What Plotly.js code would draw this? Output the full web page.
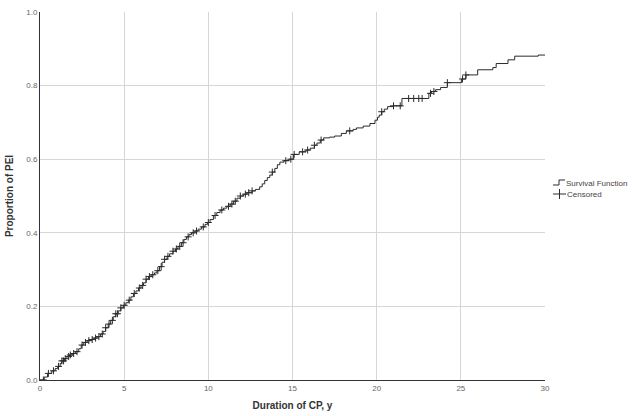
<!DOCTYPE html>
<html>
<head>
<meta charset="utf-8">
<script src="https://cdn.plot.ly/plotly-3.0.1.min.js"></script>
<style>
  html, body { margin: 0; padding: 0; background: #fff; }
  #chart { width: 632px; height: 416px; }
</style>
</head>
<body>
<div id="chart"></div>
<script>
// Cumulative proportion of PEI by duration of chronic pancreatitis (years)
const eventTimes = [0, 0.25, 0.45, 0.7, 0.9, 1.05, 1.2, 1.3, 1.45, 1.6, 1.75, 1.95, 2.1, 2.3, 2.45, 2.6, 2.8,
  3.0, 3.2, 3.4, 3.6, 3.75, 3.9, 4.05, 4.2, 4.35, 4.5, 4.65, 4.8, 4.95, 5.1, 5.25, 5.4, 5.55, 5.7, 5.85,
  6.0, 6.15, 6.3, 6.45, 6.6, 6.8, 6.95, 7.1, 7.25, 7.4, 7.55, 7.7, 7.9, 8.05, 8.2, 8.4, 8.55, 8.7, 8.85,
  9.0, 9.2, 9.4, 9.6, 9.8, 9.95, 10.1, 10.3, 10.5, 10.7, 10.9, 11.1, 11.3, 11.5, 11.7, 11.9, 12.1, 12.3,
  12.6, 12.8, 13.05, 13.2, 13.35, 13.5, 13.65, 13.8, 13.95, 14.1, 14.25, 14.5, 14.8, 15.05, 15.4, 15.8,
  16.05, 16.3, 16.45, 16.65, 16.85, 17.2, 17.5, 17.9, 18.2, 18.6, 18.8, 19.2, 19.6, 19.9, 20.05, 20.15,
  20.3, 20.45, 20.65, 21.0, 21.5, 23.1, 23.25, 23.5, 23.8, 24.2, 25.05, 25.3, 26.0, 26.9, 27.1, 27.8,
  28.2, 29.6, 30];
const cumProportion = [0, 0.008, 0.018, 0.025, 0.031, 0.037, 0.045, 0.052, 0.058, 0.064, 0.068, 0.072, 0.077,
  0.085, 0.095, 0.102, 0.107, 0.110, 0.114, 0.118, 0.125, 0.132, 0.142, 0.152, 0.162, 0.172, 0.180, 0.188,
  0.196, 0.203, 0.210, 0.217, 0.226, 0.235, 0.242, 0.250, 0.257, 0.264, 0.274, 0.281, 0.286, 0.291, 0.297,
  0.308, 0.320, 0.328, 0.336, 0.343, 0.350, 0.356, 0.363, 0.373, 0.382, 0.389, 0.395, 0.400, 0.405, 0.410,
  0.416, 0.423, 0.428, 0.436, 0.447, 0.455, 0.462, 0.467, 0.472, 0.478, 0.486, 0.494, 0.500, 0.505, 0.509,
  0.514, 0.518, 0.525, 0.533, 0.542, 0.550, 0.557, 0.565, 0.575, 0.585, 0.592, 0.596, 0.600, 0.613, 0.620,
  0.625, 0.630, 0.638, 0.644, 0.652, 0.658, 0.660, 0.663, 0.670, 0.677, 0.681, 0.685, 0.690, 0.697, 0.706,
  0.714, 0.720, 0.729, 0.736, 0.743, 0.745, 0.765, 0.779, 0.784, 0.789, 0.795, 0.808, 0.818, 0.829, 0.843,
  0.849, 0.860, 0.870, 0.880, 0.883, 0.883];

// Censored observation times
const censoredTimes = [0.2, 0.5, 0.8, 1.1, 1.3, 1.4, 1.5, 1.7, 1.8, 2.0, 2.2, 2.5, 2.7, 2.9, 3.1, 3.3, 3.5,
  3.7, 3.9, 4.1, 4.3, 4.5, 4.6, 4.8, 5.0, 5.3, 5.6, 5.9, 6.1, 6.3, 6.5, 6.7, 7.0, 7.2, 7.4, 7.6, 7.9, 8.1,
  8.3, 8.5, 8.8, 9.1, 9.3, 9.7, 10.0, 10.4, 10.8, 11.2, 11.4, 11.6, 11.9, 12.2, 12.4, 12.6, 13.8, 14.6,
  14.9, 15.1, 15.6, 15.9, 16.3, 16.7, 18.4, 20.3, 21.0, 21.4, 21.9, 22.2, 22.5, 22.7, 23.2, 23.4, 24.2,
  25.1, 25.3];

const xTicks = [0, 5, 10, 15, 20, 25, 30];
const yTicks = [0, 0.2, 0.4, 0.6, 0.8, 1.0];
const legendLabels = ['Survival Function', 'Censored'];

// Value of the step curve at time t (right-continuous)
function stepValue(t) {
  let v = 0;
  for (let i = 0; i < eventTimes.length; i++) {
    if (eventTimes[i] <= t) v = cumProportion[i]; else break;
  }
  return v;
}

const ink = '#2b2b2b';

const traces = [
  {
    x: eventTimes, y: cumProportion,
    type: 'scatter', mode: 'lines',
    line: { shape: 'hv', color: ink, width: 1 },
    name: legendLabels[0], hoverinfo: 'x+y'
  },
  {
    x: censoredTimes, y: censoredTimes.map(stepValue),
    type: 'scatter', mode: 'markers',
    marker: { symbol: 'cross-thin', size: 5, line: { color: ink, width: 1 } },
    name: legendLabels[1], hoverinfo: 'x+y'
  }
];

// Legend key drawn beside the plot: a small step glyph and a tick-on-line glyph
const legendFont = { family: 'Liberation Sans, Arial, sans-serif', size: 8, color: '#444' };
const keyShapes = [
  { type: 'path', xref: 'paper', yref: 'paper',
    path: 'M1.0158,0.5299 H1.0277 V0.5435 H1.0396', line: { color: ink, width: 1 } },
  { type: 'line', xref: 'paper', yref: 'paper',
    x0: 1.0158, x1: 1.0416, y0: 0.5054, y1: 0.5054, line: { color: ink, width: 1 } },
  { type: 'line', xref: 'paper', yref: 'paper',
    x0: 1.0287, x1: 1.0287, y0: 0.4918, y1: 0.5190, line: { color: ink, width: 1 } }
];
const keyLabels = [
  { text: legendLabels[0], xref: 'paper', yref: 'paper', x: 1.0396, y: 0.5353,
    xanchor: 'left', yanchor: 'middle', showarrow: false, font: legendFont, borderpad: 0 },
  { text: legendLabels[1], xref: 'paper', yref: 'paper', x: 1.0416, y: 0.5040,
    xanchor: 'left', yanchor: 'middle', showarrow: false, font: legendFont, borderpad: 0 }
];

const layout = {
  width: 632, height: 416,
  margin: { l: 40, r: 87, t: 12, b: 36 },
  paper_bgcolor: '#ffffff', plot_bgcolor: '#ffffff',
  font: { family: 'Liberation Sans, Arial, sans-serif', size: 8, color: '#555' },
  showlegend: false,
  shapes: keyShapes,
  annotations: keyLabels,
  xaxis: {
    range: [0, 30], tickvals: xTicks, ticktext: xTicks.map(String),
    showgrid: true, gridcolor: '#d6d6d6', gridwidth: 1,
    zeroline: false, showline: true, linecolor: '#333', linewidth: 1,
    ticks: '', ticklen: 0,
    tickfont: { size: 8, color: '#666' },
    title: { text: 'Duration of CP, y', font: { size: 10, color: '#333', family: 'Liberation Sans, Arial, sans-serif', weight: 'bold' }, standoff: 10 },
    automargin: false
  },
  yaxis: {
    range: [0, 1.0], tickvals: yTicks, ticktext: yTicks.map(v => v.toFixed(1)),
    showgrid: true, gridcolor: '#d6d6d6', gridwidth: 1,
    zeroline: false, showline: true, linecolor: '#333', linewidth: 1,
    ticks: '', ticklen: 0,
    tickfont: { size: 8, color: '#666' },
    title: { text: 'Proportion of PEI', font: { size: 10, color: '#333', family: 'Liberation Sans, Arial, sans-serif', weight: 'bold' }, standoff: 10 },
    automargin: false
  }
};

Plotly.newPlot('chart', traces, layout, { displayModeBar: false, staticPlot: true });
</script>
</body>
</html>
